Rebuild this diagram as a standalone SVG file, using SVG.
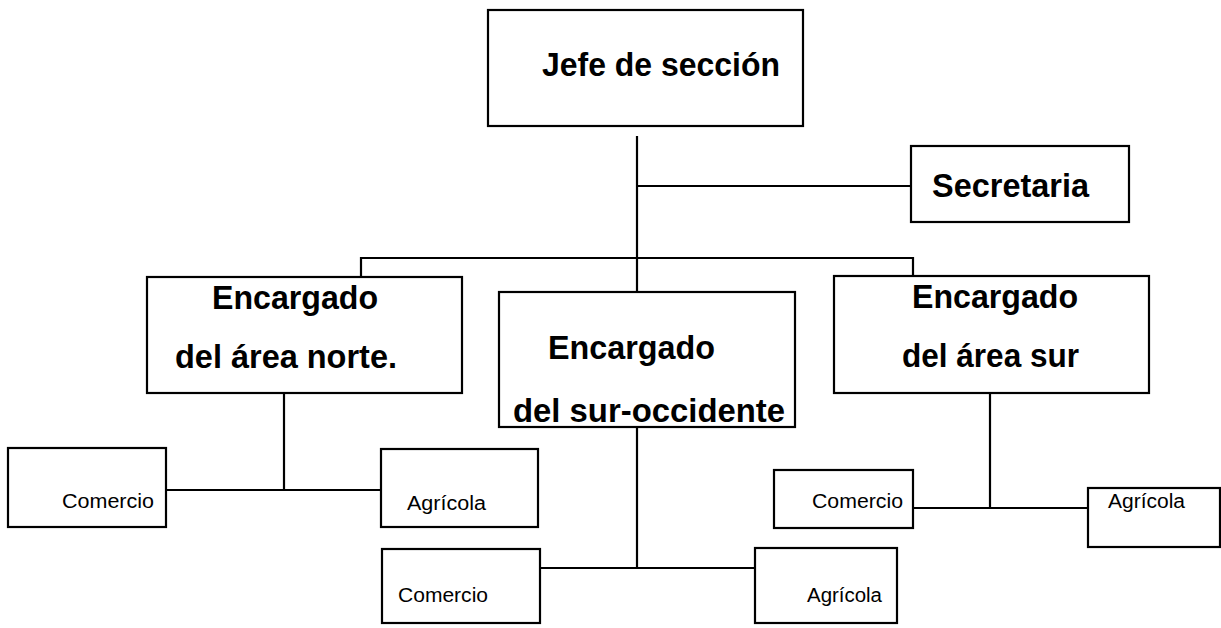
<svg xmlns="http://www.w3.org/2000/svg" width="1221" height="628" viewBox="0 0 1221 628">
<style>
  .box { fill: #ffffff; stroke: #000000; stroke-width: 2.2; }
  .conn { fill: none; stroke: #000000; stroke-width: 2.2; }
  .big { font-family: "Liberation Sans", Arial, sans-serif; font-weight: bold; font-size: 33px; fill: #000000; }
  .small { font-family: "Liberation Sans", Arial, sans-serif; font-size: 20px; fill: #000000; }
</style>
<rect x="0" y="0" width="1221" height="628" fill="#ffffff"/>
<g id="connectors">
  <path class="conn" d="M637,136 V292"/>
  <path class="conn" d="M637,186 H911"/>
  <path class="conn" d="M361,277 V258 H913 V276"/>
  <path class="conn" d="M284,393 V490"/>
  <path class="conn" d="M166,490 H381"/>
  <path class="conn" d="M637,427 V568"/>
  <path class="conn" d="M540,568 H755"/>
  <path class="conn" d="M990,393 V508"/>
  <path class="conn" d="M913,508 H1088"/>
</g>
<g id="jefe">
  <rect class="box" x="488" y="10" width="315" height="116"/>
  <text class="big" x="542" y="76" font-size="32" textLength="238" lengthAdjust="spacingAndGlyphs">Jefe de sección</text>
</g>
<g id="secretaria">
  <rect class="box" x="911" y="146" width="218" height="76"/>
  <text class="big" x="932" y="197" textLength="157" lengthAdjust="spacingAndGlyphs">Secretaria</text>
</g>
<g id="norte">
  <rect class="box" x="147" y="277" width="315" height="116"/>
  <text class="big" x="212" y="309" textLength="166" lengthAdjust="spacingAndGlyphs">Encargado</text>
  <text class="big" x="175" y="368" textLength="222" lengthAdjust="spacingAndGlyphs">del área norte.</text>
</g>
<g id="suroccidente">
  <rect class="box" x="499" y="292" width="296" height="135"/>
  <text class="big" x="548" y="359" textLength="167" lengthAdjust="spacingAndGlyphs">Encargado</text>
  <text class="big" x="513" y="422" textLength="272" lengthAdjust="spacingAndGlyphs">del sur-occidente</text>
</g>
<g id="sur">
  <rect class="box" x="834" y="276" width="315" height="117"/>
  <text class="big" x="912" y="308" textLength="166" lengthAdjust="spacingAndGlyphs">Encargado</text>
  <text class="big" x="902" y="367" textLength="177" lengthAdjust="spacingAndGlyphs">del área sur</text>
</g>
<g id="norte-comercio">
  <rect class="box" x="8" y="448" width="158" height="79"/>
  <text class="small" x="62" y="508" textLength="92" lengthAdjust="spacingAndGlyphs">Comercio</text>
</g>
<g id="norte-agricola">
  <rect class="box" x="381" y="449" width="157" height="78"/>
  <text class="small" x="407" y="510" textLength="79" lengthAdjust="spacingAndGlyphs">Agrícola</text>
</g>
<g id="suroccidente-comercio">
  <rect class="box" x="382" y="549" width="158" height="74"/>
  <text class="small" x="398" y="602" textLength="90" lengthAdjust="spacingAndGlyphs">Comercio</text>
</g>
<g id="suroccidente-agricola">
  <rect class="box" x="755" y="548" width="142" height="75"/>
  <text class="small" x="807" y="602" textLength="75" lengthAdjust="spacingAndGlyphs">Agrícola</text>
</g>
<g id="sur-comercio">
  <rect class="box" x="774" y="470" width="139" height="58"/>
  <text class="small" x="812" y="508" textLength="91" lengthAdjust="spacingAndGlyphs">Comercio</text>
</g>
<g id="sur-agricola">
  <rect class="box" x="1088" y="488" width="132" height="59"/>
  <text class="small" x="1108" y="508" textLength="77" lengthAdjust="spacingAndGlyphs">Agrícola</text>
</g>
</svg>
